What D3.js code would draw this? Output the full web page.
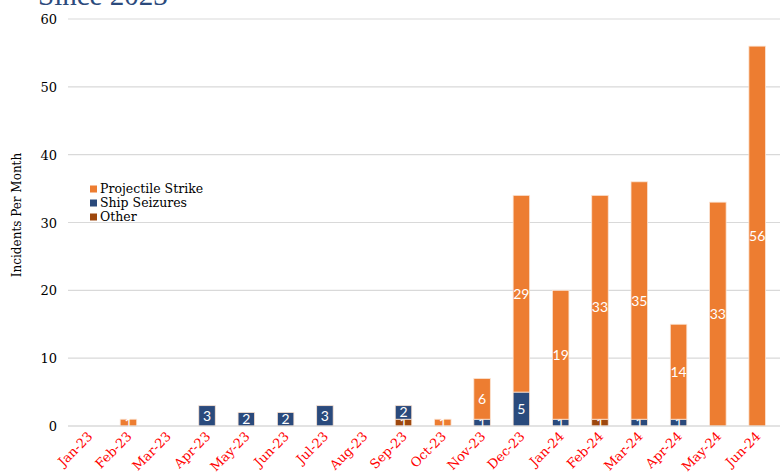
<!DOCTYPE html>
<html><head><meta charset="utf-8">
<script src="https://cdn.jsdelivr.net/npm/d3@7"></script>
<style>body{margin:0;background:#fff}svg{display:block}</style>
</head><body>
<svg id="c" width="780" height="475"></svg>
<script>
const months = ["Jan-23","Feb-23","Mar-23","Apr-23","May-23","Jun-23","Jul-23","Aug-23","Sep-23","Oct-23","Nov-23","Dec-23","Jan-24","Feb-24","Mar-24","Apr-24","May-24","Jun-24"];
const other      = [0,0,0,0,0,0,0,0,1,0,0,0,0,1,0,0,0,0];
const seizures   = [0,0,0,3,2,2,3,0,2,0,1,5,1,0,1,1,0,0];
const projectile = [0,1,0,0,0,0,0,0,0,1,6,29,19,33,35,14,33,56];
const yTicks = [0,10,20,30,40,50,60];
const seriesNames = ["Projectile Strike","Ship Seizures","Other"];
const colors = {"Other":"#9E480E","Ship Seizures":"#2A4A7C","Projectile Strike":"#ED7D31"};

const svg = d3.select("#c");
const serif = "'DejaVu Serif', serif";
const x = d3.scaleBand().domain(months).range([69.5, 776.8]).paddingInner(0.58).paddingOuter(0.29);
const y = d3.scaleLinear().domain([0,60]).range([426,19]);

// grid
svg.append("g").selectAll("line").data(yTicks).join("line")
  .attr("x1",68).attr("x2",780).attr("y1",d=>y(d)).attr("y2",d=>y(d))
  .attr("stroke","#d9d9d9").attr("stroke-width",1.2);

// y axis labels
const yAxis = d3.axisLeft(y).tickValues(yTicks).tickSize(0).tickPadding(0);
const yg = svg.append("g").attr("transform","translate(57,0)").call(yAxis);
yg.select(".domain").remove();
yg.selectAll("text").attr("font-family",serif).attr("font-size",13).attr("fill","#000").attr("dy","0.35em");

// stacked data
const rows = months.map((m,i)=>({month:m,"Other":other[i],"Ship Seizures":seizures[i],"Projectile Strike":projectile[i]}));
const stack = d3.stack().keys(["Other","Ship Seizures","Projectile Strike"])(rows);

const bw = x.bandwidth();
stack.forEach(layer=>{
  const key = layer.key;
  const g = svg.append("g");
  g.selectAll("rect").data(layer.filter(d=>d[1]-d[0]>0)).join("rect")
    .attr("x",d=>x(d.data.month)).attr("width",bw)
    .attr("y",d=>y(d[1])).attr("height",d=>y(d[0])-y(d[1]))
    .attr("fill",colors[key]).attr("stroke","#fbe3d2").attr("stroke-width",0.8);
  g.selectAll("text").data(layer.filter(d=>d[1]-d[0]>0)).join("text")
    .attr("x",d=>x(d.data.month)+bw/2).attr("y",d=>(y(d[0])+y(d[1]))/2)
    .attr("dy","0.36em").attr("text-anchor","middle")
    .attr("font-family","Lato, 'Open Sans', sans-serif").attr("font-size",14)
    .attr("fill","#fff").text(d=>d[1]-d[0]);
});

// x axis labels
const xg = svg.append("g");
xg.selectAll("line.base").data([0]).join("line")
  .attr("x1",68).attr("x2",780).attr("y1",y(0)).attr("y2",y(0)).attr("stroke","#d9d9d9").attr("stroke-width",1.2);
xg.selectAll("text").data(months).join("text")
  .attr("transform",d=>`translate(${x(d)+bw/2+1},${434}) rotate(-45)`)
  .attr("text-anchor","end").attr("dy","0.35em")
  .attr("font-family",serif).attr("font-size",13).attr("fill","#FF0000").text(d=>d);

// y title
svg.append("text").attr("transform","translate(21,215) rotate(-90)")
  .attr("text-anchor","middle").attr("font-family",serif).attr("font-size",12).attr("fill","#000")
  .text("Incidents Per Month");

// title (cut)
svg.append("text").attr("x",38).attr("y",5).attr("font-family","'Liberation Serif', serif").attr("font-size",29)
  .attr("fill","#2B4A7C").text("Since 2023");

// legend
const lg = svg.append("g");
seriesNames.forEach((s,i)=>{
  const yy = 189 + i*14;
  lg.append("rect").attr("x",90).attr("y",yy-3.5).attr("width",7).attr("height",7).attr("fill",colors[s]);
  lg.append("text").attr("x",100).attr("y",yy).attr("dy","0.35em")
    .attr("font-family",serif).attr("font-size",12.5).attr("fill","#000").text(s);
});
</script>
</body></html>
